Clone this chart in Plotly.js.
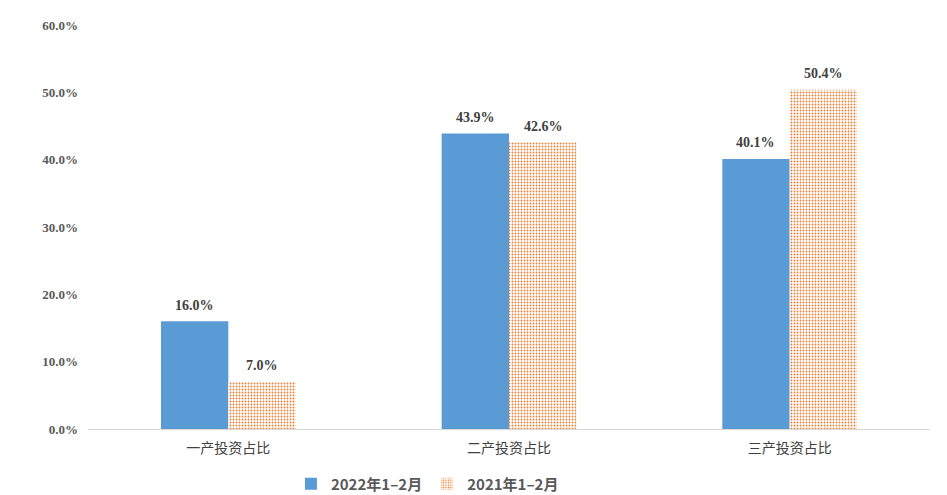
<!DOCTYPE html>
<html>
<head>
<meta charset="utf-8">
<script src="https://cdn.plot.ly/plotly-3.0.1.min.js"></script>
<style>html,body{margin:0;padding:0;background:#fff;}#chart{width:947px;height:495px;}</style>
</head>
<body>
<div id="chart"></div>
<script>
const categories = ['一产投资占比', '二产投资占比', '三产投资占比'];
const series2022 = [16.0, 43.9, 40.1];
const series2021 = [7.0, 42.6, 50.4];
const seriesNames = ['2022年1–2月', '2021年1–2月'];
const yTicks = [0, 10, 20, 30, 40, 50, 60];

const serif = 'Liberation Serif, Times New Roman, Noto Sans CJK SC, serif';
const labelFont = {family: serif, size: 14, color: '#404040', weight: 'bold'};

const traces = [
  {
    type: 'bar', name: seriesNames[0], x: categories, y: series2022,
    marker: {color: '#5B9BD5'},
    hoverinfo: 'skip'
  },
  {
    type: 'bar', name: seriesNames[1], x: categories, y: series2021,
    marker: {color: '#ffffff', pattern: {shape: '.', fgcolor: '#ED7D31', bgcolor: '#ffffff', size: 3, solidity: 0.3}},
    hoverinfo: 'skip'
  }
];

const annotations = [];
[series2022, series2021].forEach((vals, si) => {
  vals.forEach((v, i) => {
    annotations.push({
      x: categories[i], y: v, xref: 'x', yref: 'y',
      text: v.toFixed(1) + '%', showarrow: false,
      xshift: si === 0 ? -34 : 34, yshift: 16, yanchor: 'middle',
      font: labelFont
    });
  });
});

const layout = {
  width: 947, height: 495,
  margin: {l: 88, r: 17, t: 25, b: 66},
  paper_bgcolor: '#ffffff', plot_bgcolor: '#ffffff',
  barmode: 'group', bargap: 0.52, bargroupgap: 0,
  showlegend: true,
  annotations: annotations,
  legend: {orientation: 'h', x: 0.241, xanchor: 'left', yref: 'container', y: 0.022, yanchor: 'middle',
    font: {family: 'Noto Sans CJK SC, DejaVu Sans, sans-serif', size: 15, color: '#595959', weight: 'bold'},
    traceorder: 'normal'},
  xaxis: {
    showgrid: false, zeroline: false, showline: true, linecolor: '#D9D9D9', linewidth: 1,
    ticks: '', ticklabelstandoff: 6, tickfont: {family: serif, size: 14, color: '#404040'}
  },
  yaxis: {
    range: [0, 60], tickvals: yTicks, ticktext: yTicks.map(v => v.toFixed(1) + '%'),
    showgrid: false, zeroline: false, showline: false, ticks: '', ticklabelstandoff: 9,
    tickfont: {family: serif, size: 13, color: '#595959', weight: 'bold'}
  },
  font: {family: serif}
};

Plotly.newPlot('chart', traces, layout, {displayModeBar: false, staticPlot: true});
</script>
</body>
</html>
